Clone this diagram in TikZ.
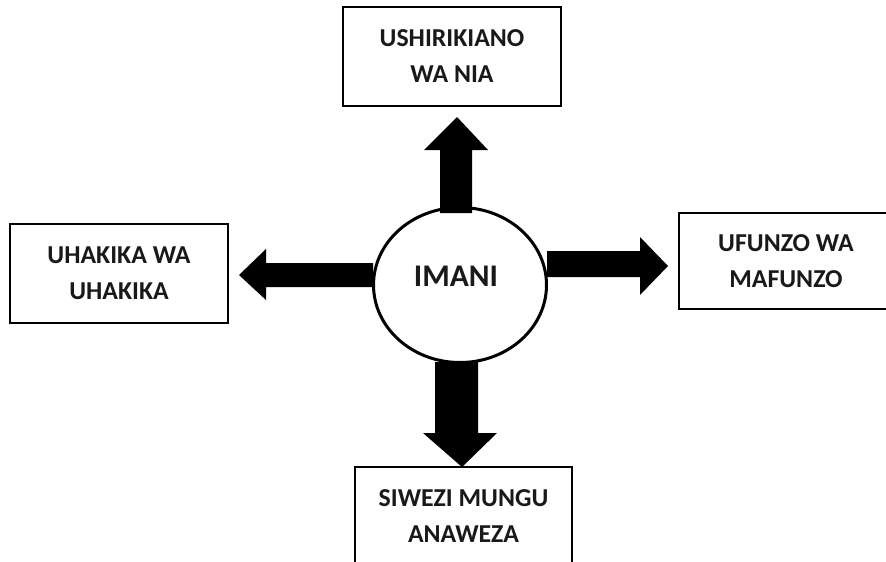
\documentclass[tikz,border=0pt]{standalone}
\usepackage{fontspec}
\setmainfont{Carlito}
\usetikzlibrary{shapes.geometric}
\begin{document}
\begin{tikzpicture}[x=1pt,y=-1pt,
  box/.style={draw=black,line width=2pt,rectangle,align=center,inner sep=0pt,
    font=\bfseries\fontsize{25.8}{36}\selectfont,text=black!90},
  blockarrow/.style={fill=black,draw=none}]
\useasboundingbox (0,0) rectangle (886,562);
\fill[white] (0,0) rectangle (886,562);
% center ellipse
\node[draw=black,line width=3pt,ellipse,minimum width=173pt,minimum height=155pt,inner sep=0pt] (imani) at (460,285) {};
\node[font=\bfseries\fontsize{31.5}{36}\selectfont,text=black!90] (imanitxt) at (456,276) {IMANI};
% boxes
\node[box,minimum width=218pt,minimum height=99pt] (top) at (452,56.5) {USHIRIKIANO\\WA NIA};
\node[box,minimum width=218pt,minimum height=99pt] (left) at (119,273.5) {UHAKIKA WA\\UHAKIKA};
\node[box,minimum width=214pt,minimum height=96pt] (right) at (786,261) {UFUNZO WA\\MAFUNZO};
\node[box,minimum width=217pt,minimum height=98pt] (bottom) at (463.5,516) {SIWEZI MUNGU\\ANAWEZA};
% block arrows
\fill[blockarrow] (440,213) -- (440,150) -- (424,150) -- (457,117) -- (488,150) -- (472,150) -- (472,213) -- cycle;
\fill[blockarrow] (373,263) -- (266,263) -- (266,249) -- (239,275) -- (266,300) -- (266,287) -- (373,287) -- cycle;
\fill[blockarrow] (547,251) -- (640,251) -- (640,237) -- (668,266) -- (640,295) -- (640,277) -- (547,277) -- cycle;
\fill[blockarrow] (435,362) -- (435,433) -- (423,433) -- (462,467) -- (497,433) -- (478,433) -- (478,362) -- cycle;
\end{tikzpicture}
\end{document}
